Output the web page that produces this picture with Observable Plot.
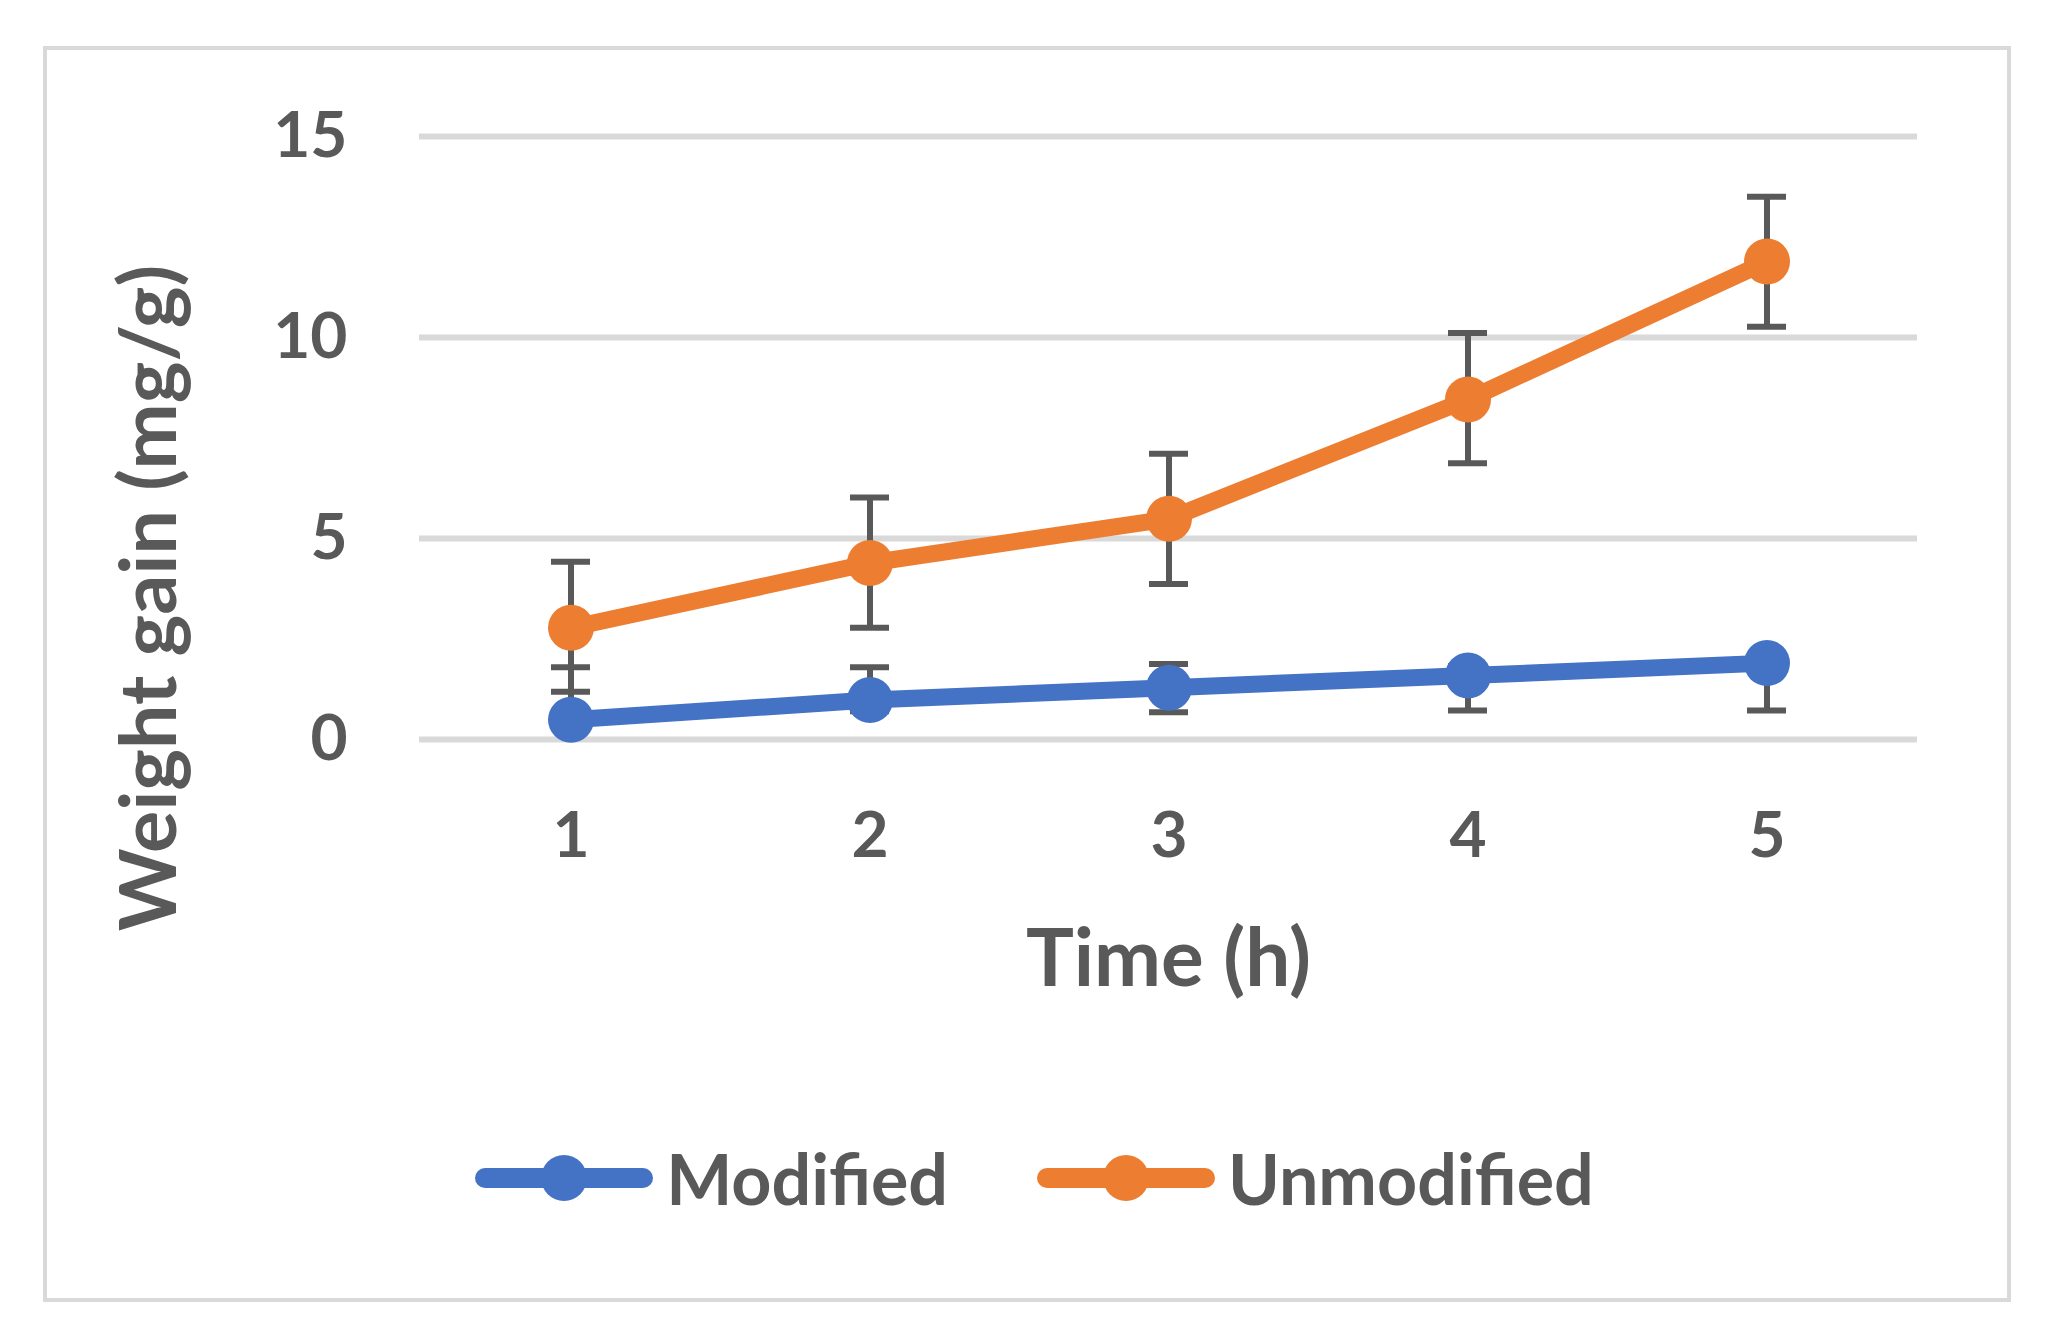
<!DOCTYPE html>
<html>
<head>
<meta charset="utf-8">
<script src="https://cdn.jsdelivr.net/npm/d3@7"></script>
<script src="https://cdn.jsdelivr.net/npm/@observablehq/plot@0.6"></script>
<style>
  html, body { margin: 0; padding: 0; background: #ffffff; }
  #wrap { position: relative; width: 2051px; height: 1340px; overflow: hidden; background: #fff; }
  #border { position: absolute; left: 43px; top: 46px; width: 1968px; height: 1256px; box-sizing: border-box; border: 4px solid #d9d9d9; }
  #chart { position: absolute; left: 0; top: 0; }
  #legend { position: absolute; left: 9px; top: 1146px; width: 2051px; height: 64px; display: flex; align-items: center; justify-content: center; gap: 89px; font-family: Lato, "Open Sans", sans-serif; font-weight: bold; color: #595959; font-size: 70px; }
  .item { display: flex; align-items: center; }
  .item span { margin-left: 13px; line-height: 1; }
</style>
</head>
<body>
<div id="wrap">
  <div id="border"></div>
  <div id="chart"></div>
  <div id="legend"></div>
</div>
<script>
// ---- data ----
const times = [1, 2, 3, 4, 5];
const yTicks = [0, 5, 10, 15];
const seriesNames = ["Modified", "Unmodified"];
const seriesColors = ["#4472C4", "#ED7D31"];

const modified = [0.49, 0.98, 1.29, 1.59, 1.90];
const modifiedLow = [0.70, 0.70, 0.68, 0.72, 0.72];
const modifiedHigh = [1.80, 1.80, 1.88, 1.82, 1.85];

const unmodified = [2.78, 4.39, 5.49, 8.46, 11.89];
const unmodifiedLow = [1.19, 2.78, 3.87, 6.87, 10.27];
const unmodifiedHigh = [4.42, 6.02, 7.11, 10.11, 13.50];

const xTitle = "Time (h)";
const yTitle = "Weight gain (mg/g)";

// ---- table built from arrays ----
const seriesValues = [modified, unmodified];
const seriesLow = [modifiedLow, unmodifiedLow];
const seriesHigh = [modifiedHigh, unmodifiedHigh];
const rows = seriesNames.flatMap((name, s) =>
  times.map((t, i) => ({series: name, t, v: seriesValues[s][i], lo: seriesLow[s][i], hi: seriesHigh[s][i]}))
);

const textColor = "#595959";
const errColor = "#595959";

const chart = Plot.plot({
  width: 2051,
  height: 1340,
  marginLeft: 419,
  marginRight: 134,
  marginTop: 136,
  marginBottom: 601,
  style: {fontFamily: "Lato, 'Open Sans', sans-serif", fontWeight: "bold", color: textColor, background: "transparent", overflow: "visible"},
  x: {type: "band", domain: times, padding: 0, axis: null},
  y: {domain: [0, 15], axis: null},
  color: {domain: seriesNames, range: seriesColors},
  marks: [
    Plot.gridY(yTicks, {stroke: "#d9d9d9", strokeOpacity: 1, strokeWidth: 6}),
    Plot.axisY(yTicks, {tickSize: 0, tickPadding: 72, fontSize: 64, fontWeight: "bold", fill: textColor, label: null}),
    Plot.axisX(times, {tickSize: 0, tickPadding: 72, fontSize: 64, fontWeight: "bold", fill: textColor, label: null}),
    Plot.text([xTitle], {text: d => d, frameAnchor: "bottom", dy: 221, lineAnchor: "middle", fontSize: 80, fontWeight: "bold", fill: textColor}),
    Plot.text([yTitle], {text: d => d, frameAnchor: "left", dx: -269, dy: 160, rotate: -90, lineAnchor: "middle", textAnchor: "middle", fontSize: 79, fontWeight: "bold", fill: textColor}),
    Plot.ruleX(rows, {x: "t", y1: "lo", y2: "hi", stroke: errColor, strokeWidth: 6}),
    Plot.tickY(rows, {x: "t", y: "lo", stroke: errColor, strokeWidth: 6, inset: 130}),
    Plot.tickY(rows, {x: "t", y: "hi", stroke: errColor, strokeWidth: 6, inset: 130}),
    Plot.line(rows, {x: "t", y: "v", z: "series", stroke: "series", strokeWidth: 17, strokeLinejoin: "round"}),
    Plot.dot(rows, {x: "t", y: "v", fill: "series", r: 23, stroke: "none"})
  ]
});
document.getElementById("chart").appendChild(chart);

// ---- legend ----
const legend = document.getElementById("legend");
seriesNames.forEach((name, s) => {
  const item = document.createElement("div");
  item.className = "item";
  item.innerHTML = `<svg width="178" height="50" viewBox="0 0 178 50"><line x1="10" y1="25" x2="168" y2="25" stroke="${seriesColors[s]}" stroke-width="20" stroke-linecap="round"/><circle cx="89" cy="25" r="23" fill="${seriesColors[s]}"/></svg><span>${name}</span>`;
  legend.appendChild(item);
});
</script>
</body>
</html>
